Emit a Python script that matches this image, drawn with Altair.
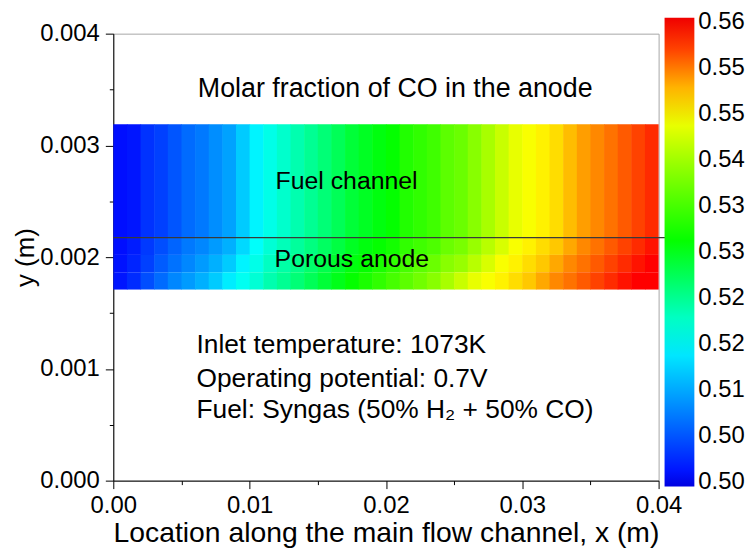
import altair as alt
import pandas as pd

# ---- data ----
# cell left edges along x (m), 0.001 m wide columns
x_left = [0.000, 0.001, 0.002, 0.003, 0.004, 0.005, 0.006, 0.007, 0.008, 0.009,
          0.010, 0.011, 0.012, 0.013, 0.014, 0.015, 0.016, 0.017, 0.018, 0.019,
          0.020, 0.021, 0.022, 0.023, 0.024, 0.025, 0.026, 0.027, 0.028, 0.029,
          0.030, 0.031, 0.032, 0.033, 0.034, 0.035, 0.036, 0.037, 0.038, 0.039]
cell_w = 0.001
overlap_w = 0.00004  # small overlap so neighbouring cells leave no hairline seam

# molar fraction of CO, fuel channel (y 0.002175 - 0.00319)
channel = [0.4995, 0.5000, 0.5020, 0.5030, 0.5045, 0.5060, 0.5070, 0.5085, 0.5100, 0.5130,
           0.5160, 0.5180, 0.5195, 0.5210, 0.5225, 0.5240, 0.5255, 0.5270, 0.5280, 0.5290,
           0.5300, 0.5320, 0.5330, 0.5340, 0.5360, 0.5370, 0.5390, 0.5410, 0.5430, 0.5450,
           0.5460, 0.5470, 0.5480, 0.5495, 0.5510, 0.5520, 0.5530, 0.5540, 0.5550, 0.5560]
# porous anode, upper part
anode_top = [0.4995, 0.5005, 0.5025, 0.5040, 0.5055, 0.5070, 0.5080, 0.5095, 0.5110, 0.5140,
             0.5170, 0.5190, 0.5205, 0.5220, 0.5235, 0.5250, 0.5265, 0.5280, 0.5290, 0.5300,
             0.5310, 0.5330, 0.5340, 0.5350, 0.5370, 0.5380, 0.5400, 0.5420, 0.5440, 0.5460,
             0.5470, 0.5480, 0.5490, 0.5505, 0.5520, 0.5530, 0.5540, 0.5550, 0.5560, 0.5570]
# porous anode, middle part
anode_mid = [0.4998, 0.5010, 0.5030, 0.5050, 0.5065, 0.5080, 0.5095, 0.5110, 0.5130, 0.5160,
             0.5180, 0.5200, 0.5215, 0.5230, 0.5245, 0.5260, 0.5275, 0.5290, 0.5300, 0.5315,
             0.5330, 0.5345, 0.5360, 0.5370, 0.5390, 0.5400, 0.5420, 0.5440, 0.5460, 0.5470,
             0.5480, 0.5490, 0.5505, 0.5520, 0.5530, 0.5540, 0.5550, 0.5560, 0.5570, 0.5580]
# porous anode, lower part
anode_bottom = [0.5000, 0.5015, 0.5040, 0.5060, 0.5080, 0.5095, 0.5110, 0.5130, 0.5155, 0.5175,
                0.5190, 0.5210, 0.5225, 0.5240, 0.5255, 0.5270, 0.5285, 0.5300, 0.5315, 0.5330,
                0.5345, 0.5360, 0.5375, 0.5390, 0.5410, 0.5430, 0.5450, 0.5460, 0.5470, 0.5480,
                0.5490, 0.5505, 0.5520, 0.5530, 0.5540, 0.5550, 0.5560, 0.5570, 0.5580, 0.5585]

band_bounds = [(0.002175, 0.00319), (0.00202, 0.002175), (0.001865, 0.00202), (0.00171, 0.001865)]
interface_y = 0.002175

# colour bar (end segments are the small out-of-range caps of the bar)
cbar_stops = [0.4979, 0.4985, 0.5075, 0.5168, 0.5235, 0.5297, 0.5385, 0.5464, 0.5524,
              0.5578, 0.5585, 0.5591]
cbar_colors = ["#0000e0", "#0000ff", "#0080ff", "#00ffff", "#00ff80", "#00ff00", "#80ff00",
               "#ffff00", "#ff8000", "#ff0000", "#ff0000", "#f00000"]
cbar_ticks = [0.4985, 0.5045, 0.5105, 0.5165, 0.5225, 0.5285, 0.5345, 0.5405, 0.5465, 0.5525, 0.5585]

x_ticks = [0.0, 0.005, 0.01, 0.015, 0.02, 0.025, 0.03, 0.035, 0.04]
y_ticks = [0.0, 0.0005, 0.001, 0.0015, 0.002, 0.0025, 0.003, 0.0035, 0.004]

annot_center = pd.DataFrame({
    "x": [0.02068, 0.01711, 0.0175],
    "y": [0.00343, 0.002611, 0.001908],
    "label": ["Molar fraction of CO in the anode", "Fuel channel", "Porous anode"],
    "size": [27, 25, 25],
})
annot_left = pd.DataFrame({
    "x": [0.0061, 0.0061, 0.0061],
    "y": [0.001143, 0.000841, 0.000557],
    "label": ["Inlet temperature: 1073K", "Operating potential: 0.7V",
              "Fuel: Syngas (50% H\u2082 + 50% CO)"],
})

# ---- build cell table ----
rows = []
for vals, (y0, y1) in zip([channel, anode_top, anode_mid, anode_bottom], band_bounds):
    for i, (xl, v) in enumerate(zip(x_left, vals)):
        x2 = xl + cell_w + (overlap_w if i < len(x_left) - 1 else 0.0)
        rows.append({"x": xl, "x2": x2, "y": y0, "y2": y1, "v": v})
cells = pd.DataFrame(rows)

FONT = "Liberation Sans"

xscale = alt.Scale(domain=[0, 0.04], nice=False, zero=False)
yscale = alt.Scale(domain=[0, 0.004], nice=False, zero=False)
cscale = alt.Scale(domain=cbar_stops, range=cbar_colors, interpolate="rgb", nice=False)

x_axis = alt.Axis(
    values=x_ticks, title="Location along the main flow channel, x (m)",
    labelExpr="round(datum.value*1000) % 10 == 0 ? format(datum.value, '.2f') : ''",
    tickSize={"condition": {"test": "round(datum.value*1000) % 10 == 0", "value": 8}, "value": 4},
    labelFontSize=24, titleFontSize=28.5, labelPadding=5, titlePadding=1,
    labelFlush=False, labelOverlap=False, grid=False,
)
y_axis = alt.Axis(
    values=y_ticks, title="y (m)",
    labelExpr="round(datum.value*10000) % 10 == 0 ? format(datum.value, '.3f') : ''",
    tickSize={"condition": {"test": "round(datum.value*10000) % 10 == 0", "value": 8}, "value": 4},
    labelFontSize=24, titleFontSize=26, labelPadding=6, titlePadding=1,
    labelFlush=False, labelOverlap=False, grid=False,
)

field = alt.Chart(cells).mark_rect().encode(
    x=alt.X("x:Q", scale=xscale, axis=x_axis),
    x2="x2:Q",
    y=alt.Y("y:Q", scale=yscale, axis=y_axis),
    y2="y2:Q",
    color=alt.Color("v:Q", scale=cscale, legend=alt.Legend(
        type="gradient", orient="none", legendX=555, legendY=-16, direction="vertical",
        gradientLength=472, gradientThickness=30, gradientStrokeWidth=0,
        values=cbar_ticks, format=".2f", labelFontSize=24, labelFont=FONT,
        labelColor="black", labelOffset=4, labelOverlap=False, title=None, padding=0,
    )),
)

line = alt.Chart(pd.DataFrame({"x": [0.0], "x2": [0.0405], "y": [interface_y]})).mark_rule(
    color="#3a3a3a", strokeWidth=1.2, clip=False
).encode(x="x:Q", x2="x2:Q", y="y:Q")

txt_c = alt.Chart(annot_center).mark_text(
    align="center", baseline="alphabetic", font=FONT, color="black"
).encode(x="x:Q", y="y:Q", text="label:N", size=alt.Size("size:Q", scale=None, legend=None))

txt_l = alt.Chart(annot_left).mark_text(
    align="left", baseline="alphabetic", font=FONT, color="black", fontSize=26.5
).encode(x="x:Q", y="y:Q", text="label:N")

chart = alt.layer(field, line, txt_c, txt_l).properties(
    width=549, height=450,
    padding={"left": 106, "top": 24, "right": 90, "bottom": 68},
    autosize=alt.AutoSizeParams(type="none"),
).configure_view(
    stroke="#a6a6a6", strokeWidth=1
).configure_axis(
    labelFont=FONT, titleFont=FONT, labelColor="black", titleColor="black",
    titleFontWeight="normal", domainColor="black", tickColor="black",
    domainWidth=1, tickWidth=1,
)

chart.save("out.html", embed_options={"renderer": "svg", "actions": False})
